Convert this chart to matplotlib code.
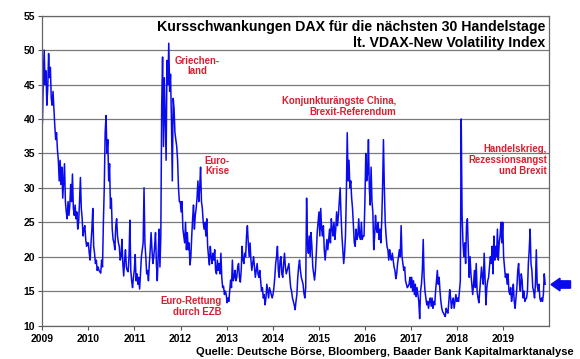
import matplotlib
matplotlib.use("Agg")
import matplotlib.pyplot as plt
from matplotlib.patches import FancyArrow
import pandas as pd

plt.rcParams['font.family'] = ['Liberation Sans', 'DejaVu Sans']

# VDAX-New, weekly readings per year
vdax_2009 = [39.5, 46, 50, 45, 47, 42, 44.5, 49.5, 46, 47.5, 43, 42, 44, 41.5, 39, 37, 38, 35.5, 34, 31,
             34, 30.5, 33, 28.5, 31, 33.5, 28, 26.5, 25.5, 28, 26, 27.5, 30.5, 28, 32, 27, 26, 27.5, 25.5, 26.5,
             24, 25, 28, 31.5, 27, 25.5, 23, 24, 24.5, 22.5, 21.5, 22]
vdax_2010 = [22, 20.5, 19.5, 22, 24, 27, 21.5, 20.5, 19, 19.5, 18, 18.5, 18, 17.8, 17.6, 19.5, 18.5, 25, 30, 38,
             40.5, 35, 37, 31, 33.5, 27, 28.5, 24, 22.5, 22, 21, 24.5, 25.5, 23, 22, 21.5, 19.5, 20, 22.5, 19,
             17.2, 19.5, 21, 18.5, 18, 17.8, 20, 25.3, 18, 16.5, 15.5, 17]
vdax_2011 = [18, 20.3, 16.5, 17.5, 16, 17, 15.3, 17.5, 20, 21, 22, 30, 22, 20, 17.5, 18, 16.5, 19, 21, 23.5,
             21, 19, 20, 21.5, 23.5, 19, 16.5, 20, 24, 18.5, 23, 42, 49, 36, 46, 40, 34, 48.5, 45, 51,
             44, 46.5, 40, 31, 43, 41.5, 38, 37, 36, 34, 30, 28]
vdax_2012 = [28, 26.5, 28, 24, 23, 22, 25, 21, 23.5, 21, 22, 18.8, 20, 23, 25.5, 27.5, 24, 26, 27, 28.5,
             31, 28, 30, 33, 28, 27, 25, 24, 25, 23, 25.5, 21.5, 20, 18.8, 21.5, 20, 19, 20.5, 19.5, 21,
             18, 17.5, 19.5, 18, 19, 17.5, 20.5, 17, 15.5, 15.7, 14.5, 15]
vdax_2013 = [14.5, 13.3, 14, 13.5, 15, 16.6, 15.5, 19.5, 16.5, 17, 18, 16.5, 17, 18.5, 19, 17, 16.3, 18, 21.5, 19.5,
             19, 20.5, 20, 23, 24.5, 22, 20, 22, 19.5, 18, 19, 20, 18.5, 17, 18, 19, 17.5, 17, 18, 16.5,
             15, 15.5, 14, 14.5, 13, 14, 16, 15, 14, 15.5, 15, 14.5]
vdax_2014 = [14, 14.5, 15.5, 17, 19, 20, 21.5, 18, 17, 19.5, 20, 17.5, 17, 19, 20.5, 18.5, 17.5, 18, 18.5, 19,
             17, 15.5, 15, 14, 13.5, 13, 12.3, 13.5, 14.5, 17, 18.5, 19.5, 18, 17, 16.5, 16, 14.7, 14, 15.5, 28.5,
             22, 20.5, 23, 20, 23.5, 21.5, 18.5, 17.5, 16.6, 18, 20.5, 23.5]
vdax_2015 = [25, 26.5, 23, 27, 24, 23, 24.5, 21, 19.5, 21, 22.5, 21, 22.5, 24, 22, 25.5, 24, 23, 25, 22.5,
             24, 26.5, 24.5, 26, 28, 30, 26, 23, 21, 19, 20.5, 23, 29, 38, 31, 34, 30, 31, 28.5, 27,
             24.5, 22, 21.5, 24, 22.5, 23, 25.5, 23, 22.5, 25, 22.5, 23]
vdax_2016 = [23, 28, 35, 31, 32, 37, 30, 27.5, 33, 28, 26.5, 21, 23, 26, 24, 23.5, 25, 22.5, 24, 22,
             25, 30, 37, 30, 25, 23, 21.5, 21, 19.5, 21, 20, 19.5, 20.5, 19.5, 18.5, 18, 16.8, 17.5, 19, 20,
             21, 20, 24.5, 20, 19, 18, 18.5, 16.5, 16, 15.5, 15.7, 16]
vdax_2017 = [17, 15.5, 17, 15, 16.5, 14.5, 16, 14.2, 15.5, 14.5, 13.5, 11, 15, 16, 18, 22.5, 17, 15, 14, 13,
             13.5, 12.5, 13.5, 14, 12.8, 14, 12.5, 13.5, 13, 15, 16.5, 18, 16, 17, 15, 13.5, 12.5, 12, 11.8, 11.5,
             11.3, 12.5, 12, 11.8, 13.5, 15.2, 14, 12.5, 13.5, 14, 12.5, 13.5]
vdax_2018 = [14.5, 13.5, 14, 13.5, 15, 16.5, 40, 26, 22, 20, 22, 19, 24.5, 25.5, 21, 17, 20, 17.5, 16, 14.5,
             16, 18, 15.5, 19, 15, 14, 13.3, 15, 16.5, 18.5, 17, 16, 20.5, 17, 13, 15.5, 16.5, 17, 18.5, 20,
             19, 21.5, 17.5, 23, 19.5, 21.5, 20, 24, 19.5, 22, 23, 25]
vdax_2019 = [22, 25, 20, 18.5, 17, 17.5, 16, 17.5, 15, 14.5, 15.5, 13.5, 14.5, 16, 13.5, 12.5, 14, 15.5, 18, 19,
             16, 15, 17.5, 16.5, 14, 15, 13.5, 13.8, 14, 15, 19, 21, 24, 19, 18, 15.5, 15, 14, 16, 21,
             16, 15, 16, 14, 13.5, 14, 13.5, 14.5, 17.5, 16]

vdax = (vdax_2009 + vdax_2010 + vdax_2011 + vdax_2012 + vdax_2013 + vdax_2014
        + vdax_2015 + vdax_2016 + vdax_2017 + vdax_2018 + vdax_2019)
dates = pd.date_range("2009-01-02", periods=len(vdax), freq="7D")

years = list(range(2009, 2020))
y_ticks = [10, 15, 20, 25, 30, 35, 40, 45, 50, 55]

title_1 = "Kursschwankungen DAX für die nächsten 30 Handelstage"
title_2 = "lt. VDAX-New Volatility Index"
source = "Quelle: Deutsche Börse, Bloomberg, Baader Bank Kapitalmarktanalyse"

W, H = 580, 359
RED = '#d91e2e'
BLUE = '#0a0aee'


def px(x, y):
    return x / W, 1 - y / H


fig = plt.figure(figsize=(W / 100, H / 100), dpi=100)
ax = fig.add_axes([42.3 / W, 1 - 325.5 / H, (549.3 - 42.3) / W, (325.5 - 15.7) / H])

ax.plot(dates, vdax, color=BLUE, lw=1.1)
ax.set_ylim(10, 55)
ax.set_xlim(pd.Timestamp("2009-01-01"), pd.Timestamp("2020-01-01"))
ax.set_yticks(y_ticks)
ax.set_xticks([pd.Timestamp(f"{y}-01-01") for y in years])
ax.set_xticklabels([str(y) for y in years])
ax.grid(axis='y', color='#7a7a7a', lw=0.9)
ax.grid(axis='x', visible=False)
ax.set_axisbelow(True)
ax.tick_params(labelsize=7.5, length=3, width=0.8, color='#555555')
ax.tick_params(axis='x', pad=3)
ax.tick_params(axis='y', pad=2)
for lab in ax.get_xticklabels() + ax.get_yticklabels():
    lab.set_fontweight('bold')
for s in ax.spines.values():
    s.set_color('#666666')
    s.set_linewidth(0.9)

# title, top right inside the plot
fig.text(*px(545.7, 20.2), title_1, ha='right', va='top', fontsize=10.2, fontweight='bold')
fig.text(*px(545.7, 36.2), title_2, ha='right', va='top', fontsize=10.2, fontweight='bold')

# event labels
note = dict(color=RED, fontsize=6.9, fontweight='bold', va='top', linespacing=1.1)
fig.text(*px(197, 55.5), "Griechen-\nland", ha='center', multialignment='center', **note)
fig.text(*px(217, 155.5), "Euro-\nKrise", ha='center', multialignment='center', **note)
fig.text(*px(396, 96), "Konjunkturängste China,\nBrexit-Referendum", ha='right', multialignment='right', **note)
fig.text(*px(547, 144.5), "Handelskrieg,\nRezessionsangst\nund Brexit", ha='right', multialignment='right', **note)
fig.text(*px(222, 296), "Euro-Rettung\ndurch EZB", ha='right', multialignment='right', **note)

fig.text(*px(574, 355), source, ha='right', va='baseline', fontsize=8, fontweight='bold')

# arrow marking the current level
x0, y0 = px(570.5, 284.5)
fig.add_artist(FancyArrow(x0, y0, -19.5 / W, 0, width=7.3 / H, head_width=12.7 / H,
                          head_length=9 / W, length_includes_head=True,
                          color=BLUE, transform=fig.transFigure))

fig.savefig("out.png", dpi=100)
